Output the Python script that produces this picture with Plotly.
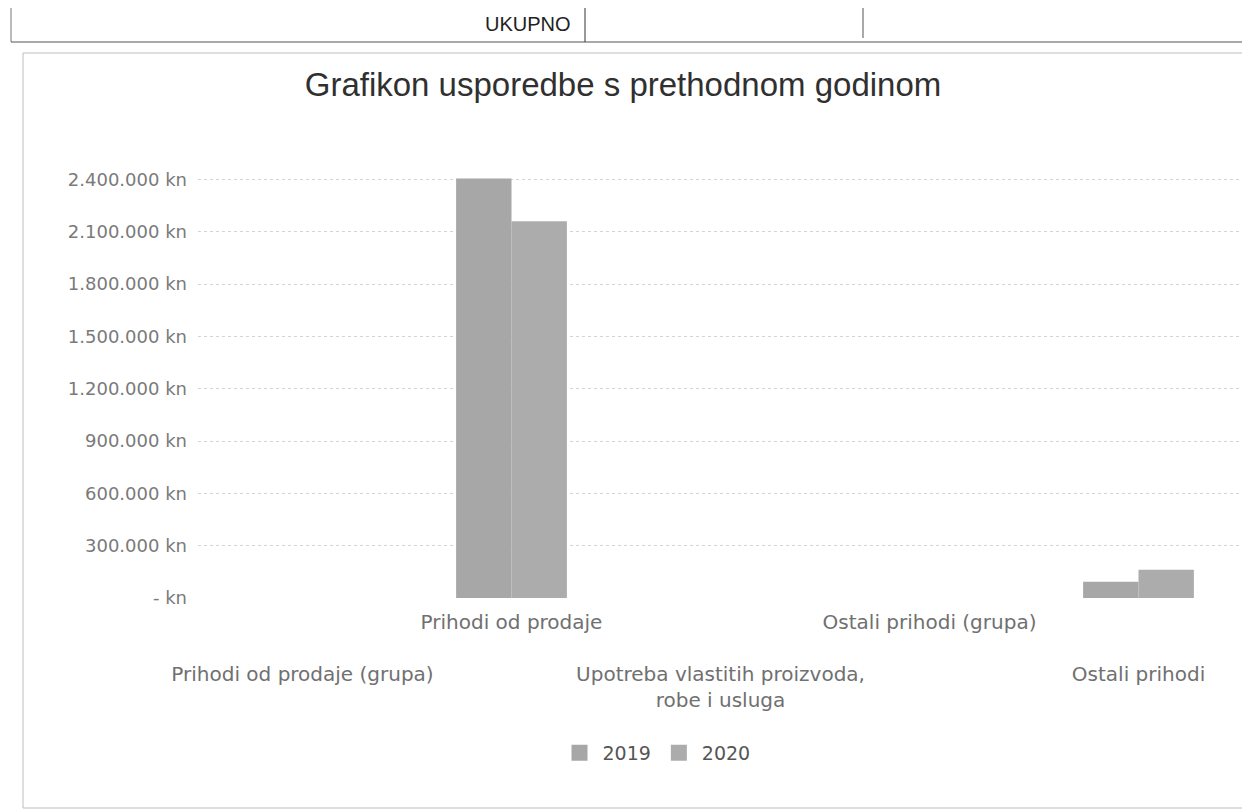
import plotly.graph_objects as go

# ---- data ----
categories = [
    "Prihodi od prodaje (grupa)",
    "Prihodi od prodaje",
    "Upotreba vlastitih proizvoda, robe i usluga",
    "Ostali prihodi (grupa)",
    "Ostali prihodi",
]
category_labels = [
    "<br><br>Prihodi od prodaje (grupa)",
    "Prihodi od prodaje",
    "<br><br>Upotreba vlastitih proizvoda,<br>robe i usluga",
    "Ostali prihodi (grupa)",
    "<br><br>Ostali prihodi",
]
series_names = ["2019", "2020"]
series_colors = ["#a7a7a7", "#acacac"]
values_2019 = [0, 2405000, 0, 0, 93000]
values_2020 = [0, 2160000, 0, 0, 162000]
tick_values = [0, 300000, 600000, 900000, 1200000, 1500000, 1800000, 2100000, 2400000]
tick_labels = ["- kn", "300.000 kn", "600.000 kn", "900.000 kn", "1.200.000 kn",
               "1.500.000 kn", "1.800.000 kn", "2.100.000 kn", "2.400.000 kn"]
title_text = "Grafikon usporedbe s prethodnom godinom"

fig = go.Figure()
for name, vals, col in zip(series_names, [values_2019, values_2020], series_colors):
    fig.add_trace(go.Bar(name=name, x=categories, y=vals, showlegend=False,
                         marker=dict(color=col, line=dict(width=0))))
# legend entries with square swatches
for name, col in zip(series_names, series_colors):
    fig.add_trace(go.Scatter(name=name, x=[None], y=[None], mode="markers",
                             marker=dict(symbol="square", size=30, color=col),
                             showlegend=True))

# pixel -> paper helpers (plot area 190..1235 x, 168..590 y)
L, R, T, B = 190, 1235, 168, 590
def xp(px):
    return (px - L) / (R - L)
def yp(py):
    return (B - py) / (B - T)

shapes = [
    # chart border
    dict(type="rect", xref="paper", yref="paper", x0=xp(15), x1=xp(1244), y0=yp(800), y1=yp(45),
         line=dict(color="#bdbdbd", width=1)),
    # table fragment at the top
    dict(type="line", xref="paper", yref="paper", x0=xp(3), x1=xp(1250), y0=yp(34), y1=yp(34),
         line=dict(color="#555555", width=1)),
    dict(type="line", xref="paper", yref="paper", x0=xp(3), x1=xp(3), y0=yp(34), y1=yp(0),
         line=dict(color="#777777", width=1)),
    dict(type="line", xref="paper", yref="paper", x0=xp(577), x1=xp(577), y0=yp(34), y1=yp(0),
         line=dict(color="#333333", width=1)),
    dict(type="line", xref="paper", yref="paper", x0=xp(855), x1=xp(855), y0=yp(30), y1=yp(0),
         line=dict(color="#555555", width=1)),
]

annotations = [
    dict(text="UKUPNO", xref="paper", yref="paper", x=xp(565), y=yp(16), xanchor="right",
         yanchor="middle", showarrow=False,
         font=dict(family="Liberation Sans, Arial", size=20, color="#222222")),
]

fig.update_layout(
    width=1250, height=812,
    paper_bgcolor="white", plot_bgcolor="white",
    margin=dict(l=L, r=1250 - R, t=T, b=812 - B, autoexpand=False),
    title=dict(text=title_text, x=0.492, xanchor="center", y=1 - 76 / 812, yanchor="middle",
               font=dict(family="Liberation Sans, Arial", size=33, color="#303030")),
    barmode="group", bargap=0.47, bargroupgap=0,
    showlegend=True,
    legend=dict(orientation="h", x=xp(648), xanchor="center", y=yp(745), yanchor="middle",
                font=dict(family="DejaVu Sans", size=19, color="#555555"),
                itemwidth=36, traceorder="normal", itemsizing="trace"),
    shapes=shapes,
    annotations=annotations,
    xaxis=dict(type="category", categoryorder="array", categoryarray=categories,
               tickmode="array", tickvals=categories, ticktext=category_labels,
               tickfont=dict(family="DejaVu Sans", size=20, color="#707070"),
               showgrid=False, showline=False, ticks="", tickangle=0, automargin=False,
               ticklabelstandoff=10),
    yaxis=dict(range=[0, 2420000], tickmode="array", tickvals=tick_values, ticktext=tick_labels,
               tickfont=dict(family="DejaVu Sans", size=18, color="#7a7a7a"),
               showgrid=True, gridcolor="#d4d4d4", gridwidth=1, griddash="dot",
               zeroline=False, showline=False, ticks="", ticklabelstandoff=10, automargin=False),
    font=dict(family="DejaVu Sans"),
)

fig.write_html("out.html")
